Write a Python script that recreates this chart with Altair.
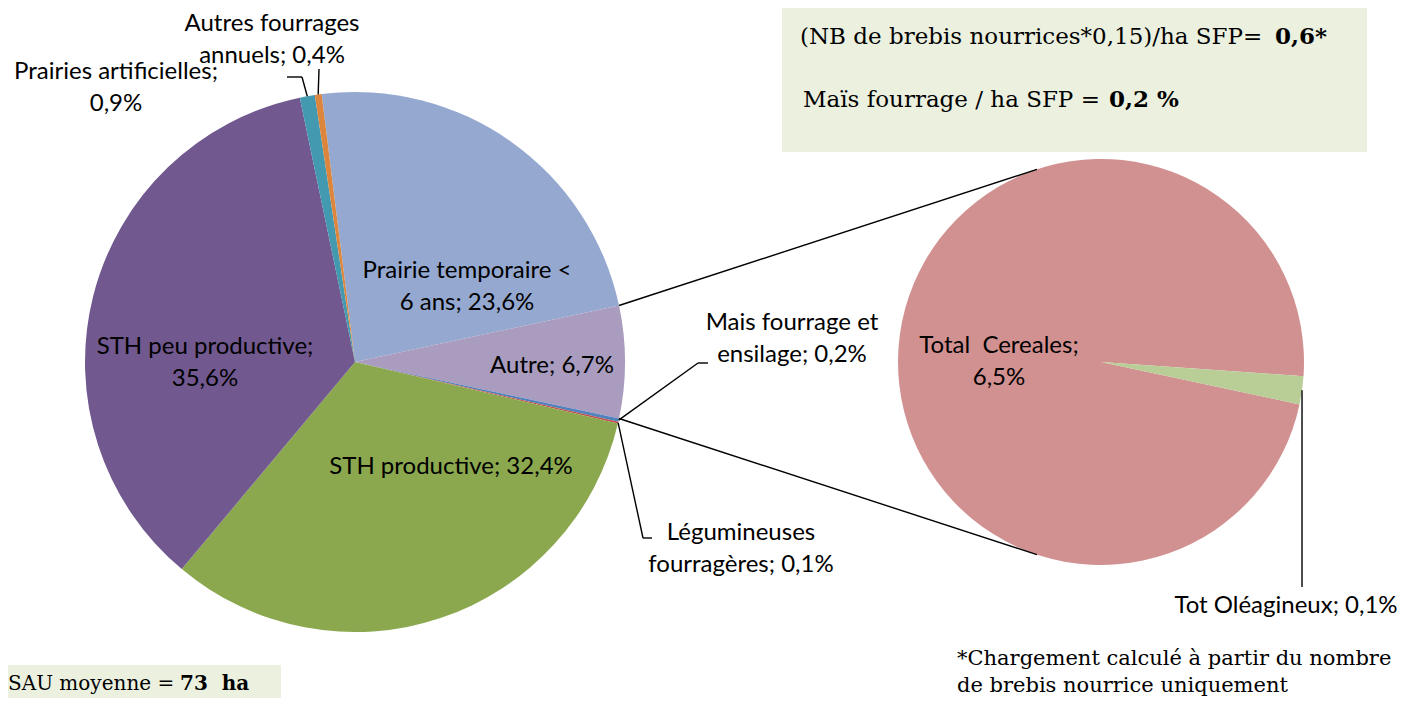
import math
import altair as alt
import pandas as pd

# ---------------- data ----------------
main_categories = ["Prairie temporaire < 6 ans", "Autre", "Mais fourrage et ensilage",
                   "Légumineuses fourragères", "STH productive", "STH peu productive",
                   "Prairies artificielles", "Autres fourrages annuels"]
main_values = [23.6, 6.7, 0.2, 0.1, 32.4, 35.6, 0.9, 0.4]
main_labels = [["Prairie temporaire <", "6 ans; 23,6%"], ["Autre; 6,7%"],
               ["Mais fourrage et", "ensilage; 0,2%"], ["Légumineuses", "fourragères; 0,1%"],
               ["STH productive; 32,4%"], ["STH peu productive;", "35,6%"],
               ["Prairies artificielles;", "0,9%"], ["Autres fourrages", "annuels; 0,4%"]]

sub_categories = ["Total  Cereales", "Tot Oléagineux"]
sub_values = [6.55, 0.15]
sub_labels = [["Total\u00a0 Cereales;", "6,5%"], ["Tot Oléagineux; 0,1%"]]

box_lines = [("(NB de brebis nourrices*0,15)/ha SFP= ", "0,6*"),
             ("Maïs fourrage / ha SFP = ", "0,2 %")]
sau_line = ("SAU moyenne = ", "73\u00a0 ha")
footnote = ["*Chargement calculé à partir du nombre", "de brebis nourrice uniquement"]

# ---------------- styles / layout ----------------
main_colors = ["#95A9D0", "#A99CBF", "#4F81BD", "#C0504D", "#8BA84F", "#71588F", "#4299B0", "#DC853D"]
sub_colors = ["#D29191", "#B9CD96"]
OFF = 8  # page margin
W, H = 1389, 690
MC = (355, 362); MR = 270
SC = (1101, 362); SR = 203
LH = 32
SANS = "Lato"
SANS_SIZE = 24
SERIF = "DejaVu Serif"


def P(x, y):
    return x - OFF, y - OFF


def on_circle(c, r, deg):
    a = math.radians(deg)
    return c[0] + r * math.sin(a), c[1] - r * math.cos(a)


# main pie rotation: "Autre" slice centered on the right (90 deg)
tot = sum(main_values)
i_autre = 1
before = sum(main_values[:i_autre])
a0 = 90 - (before + main_values[i_autre] / 2) / tot * 360
a0_pos = a0 + 360
cum = []
s = 0
for v in main_values:
    cum.append((a0 + s / tot * 360, a0 + (s + v) / tot * 360))
    s += v

# second pie rotation
stot = sum(sub_values)
s_end_first = 94.0
s0 = s_end_first - sub_values[0] / stot * 360 + 360
scum = []
s = 0
for v in sub_values:
    scum.append((s0 + s / stot * 360, s0 + (s + v) / stot * 360))
    s += v

main_df = pd.DataFrame({"cat": main_categories, "value": main_values, "k": range(len(main_values))})
sub_df = pd.DataFrame({"cat": sub_categories, "value": sub_values, "k": range(len(sub_values))})

main_pie = alt.Chart(main_df).mark_arc(outerRadius=MR).encode(
    x=alt.value(P(*MC)[0]), y=alt.value(P(*MC)[1]),
    theta=alt.Theta("value:Q", stack=True,
                    scale=alt.Scale(range=[math.radians(a0_pos), math.radians(a0_pos + 360)])),
    color=alt.Color("cat:N", scale=alt.Scale(domain=main_categories, range=main_colors), legend=None),
    order=alt.Order("k:Q"),
)
sub_pie = alt.Chart(sub_df).mark_arc(outerRadius=SR).encode(
    x=alt.value(P(*SC)[0]), y=alt.value(P(*SC)[1]),
    theta=alt.Theta("value:Q", stack=True,
                    scale=alt.Scale(range=[math.radians(s0), math.radians(s0 + 360)])),
    color=alt.Color("cat:N", scale=alt.Scale(domain=sub_categories, range=sub_colors), legend=None),
    order=alt.Order("k:Q"),
)

# connector lines between the pies
segs = []
p1 = on_circle(MC, MR, cum[i_autre][0]); q1 = on_circle(SC, SR, 341.6)
p2 = on_circle(MC, MR, cum[i_autre][1]); q2 = on_circle(SC, SR, 198.4)
segs += [(p1, q1), (p2, q2)]


def mid(c):
    return (c[0] + c[1]) / 2


# leader lines: category index -> bend / end points
leaders_main = {2: [(698, 363), (708, 363)], 3: [(643, 538), (652, 538)],
                6: [(302, 77), (287, 77)], 7: [(319, 69)]}
for idx, pts in leaders_main.items():
    start = on_circle(MC, MR, mid(cum[idx]))
    chain = [start] + pts
    for a, b in zip(chain[:-1], chain[1:]):
        segs.append((a, b))
start = on_circle(SC, SR, mid(scum[1]))
segs.append((start, (start[0], 587)))

seg_df = pd.DataFrame([{"x": P(*a)[0], "y": P(*a)[1], "x2": P(*b)[0], "y2": P(*b)[1]} for a, b in segs])
rules = alt.Chart(seg_df).mark_rule(color="black", strokeWidth=1.4).encode(
    x=alt.X("x:Q", scale=None), y=alt.Y("y:Q", scale=None),
    x2="x2:Q", y2="y2:Q")

# label positions (center of first line)
main_pos = {0: (467, 271), 1: (552, 366), 2: (792, 323), 3: (741, 533), 4: (451, 467),
            5: (205, 347), 6: (116, 72), 7: (272, 24)}
sub_pos = {0: (999, 346), 1: (1286, 606)}
rows = []
for i, lines in enumerate(main_labels):
    cx, cy = main_pos[i]
    for j, t in enumerate(lines):
        x, y = P(cx, cy + j * LH)
        rows.append({"t": t, "x": x, "y": y})
for i, lines in enumerate(sub_labels):
    cx, cy = sub_pos[i]
    for j, t in enumerate(lines):
        x, y = P(cx, cy + j * LH)
        rows.append({"t": t, "x": x, "y": y})
lab_df = pd.DataFrame(rows)
labels = alt.Chart(lab_df).mark_text(font=SANS, fontSize=SANS_SIZE, color="black", align="center",
                                     baseline="middle").encode(
    x=alt.X("x:Q", scale=None), y=alt.Y("y:Q", scale=None), text="t:N")

# boxes
box_df = pd.DataFrame([
    {"x": P(782, 8)[0], "y": P(782, 8)[1], "x2": P(1367, 152)[0], "y2": P(1367, 152)[1]},
    {"x": 0, "y": P(0, 665)[1], "x2": P(281, 0)[0], "y2": H},
])
boxes = alt.Chart(box_df).mark_rect(color="#EBF0DF").encode(
    x=alt.X("x:Q", scale=None), y=alt.Y("y:Q", scale=None), x2="x2:Q", y2="y2:Q")

# serif texts: (text, x, y, size, bold)
serif_rows = []
for (n, b), (xn, xb, yy) in zip(box_lines, [(800, 1275, 37), (803, 1109, 100)]):
    serif_rows.append({"t": n, "x": P(xn, 0)[0], "y": P(0, yy)[1], "s": 23, "w": "normal"})
    serif_rows.append({"t": b, "x": P(xb, 0)[0], "y": P(0, yy)[1], "s": 23, "w": "bold"})
serif_rows.append({"t": sau_line[0], "x": 0, "y": P(0, 684)[1], "s": 20, "w": "normal"})
serif_rows.append({"t": sau_line[1], "x": 172, "y": P(0, 684)[1], "s": 20, "w": "bold"})
for j, t in enumerate(footnote):
    serif_rows.append({"t": t, "x": P(957, 0)[0], "y": P(0, 659 + 27 * j)[1], "s": 21, "w": "normal"})
serif_df = pd.DataFrame(serif_rows)

serif_norm = alt.Chart(serif_df[serif_df.w == "normal"]).mark_text(
    font=SERIF, color="black", align="left", baseline="middle").encode(
    x=alt.X("x:Q", scale=None), y=alt.Y("y:Q", scale=None), text="t:N",
    size=alt.Size("s:Q", scale=None, legend=None))
serif_bold = alt.Chart(serif_df[serif_df.w == "bold"]).mark_text(
    font=SERIF, fontWeight="bold", color="black", align="left", baseline="middle").encode(
    x=alt.X("x:Q", scale=None), y=alt.Y("y:Q", scale=None), text="t:N",
    size=alt.Size("s:Q", scale=None, legend=None))

chart = alt.layer(boxes, main_pie, sub_pie, rules, labels, serif_norm, serif_bold).resolve_scale(
    theta="independent", color="independent", size="independent"
).properties(width=W, height=H, padding=0, autosize="none").configure_view(stroke=None)

chart.save("out.html", embed_options={"renderer": "svg", "actions": False})
